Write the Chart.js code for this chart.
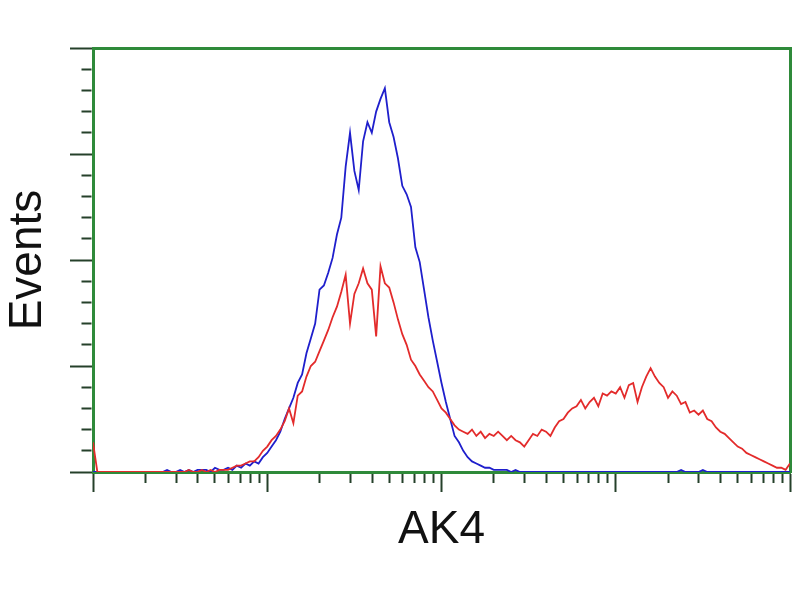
<!DOCTYPE html>
<html>
<head>
<meta charset="utf-8">
<script src="https://cdn.jsdelivr.net/npm/chart.js@4/dist/chart.umd.min.js"></script>
<style>
  html, body { margin: 0; padding: 0; background: #ffffff; }
  #wrap { width: 800px; height: 600px; position: relative; }
</style>
</head>
<body>
<div id="wrap"><canvas id="c"></canvas></div>
<script>
// Channel categories (log-scaled display, 40 channels per decade, 4 decades)
const channels = Array.from({length: 161}, (_, i) => i);
const decades = [0, 1, 2, 3];          // decade starts (10^0 .. 10^3)
const subdivisions = [1, 2, 3, 4, 5, 6, 7, 8, 9];
const xTitle = 'AK4';
const yTitle = 'Events';

// Series values (events per channel)
const blueValues = [
  0,0,0,0,0,0,0,0,0,0,
  0,0,0,0,0,0,0,1,0,0,
  1,0,1,0,1,1,1,0,2,1,
  1,2,1,3,2,4,3,5,4,7,
  9,12,15,19,25,30,35,42,46,56,
  63,70,86,88,94,101,112,120,144,160,
  142,133,156,165,160,170,176,181,165,158,
  148,135,131,125,106,99,86,73,62,52,
  42,33,25,17,14,10,7,5,4,3,
  2,2,1,1,1,1,0,1,0,0,
  0,0,0,0,0,0,0,0,0,0,
  0,0,0,0,0,0,0,0,0,0,
  0,0,0,0,0,0,0,0,0,0,
  0,0,0,0,0,1,0,0,0,0,
  1,0,0,0,0,0,0,0,0,0,
  0,0,0,0,0,0,0,0,0,0,
  0
];
const redValues = [
  14,0,0,0,0,0,0,0,0,0,
  0,0,0,0,0,0,0,0,0,0,
  0,0,1,0,0,1,0,1,0,1,
  1,1,2,3,3,4,5,5,7,10,
  12,15,17,20,24,30,23,36,38,45,
  50,52,57,62,67,73,78,85,93,70,
  84,89,96,89,86,64,97,89,87,80,
  72,65,60,53,50,46,43,40,38,34,
  30,28,25,22,20,19,18,20,17,19,
  16,18,17,19,17,15,17,15,14,12,
  15,18,17,20,19,17,21,24,25,28,
  30,31,34,30,33,35,31,37,36,38,
  37,40,35,41,42,33,40,45,49,45,
  42,40,35,38,36,32,33,28,29,27,
  29,25,24,21,19,18,16,14,12,11,
  9,8,7,6,5,4,3,2,2,1,4
];

const CH_PER_DEC = 40;
const GREEN = '#2f8a3a';
const TICK = '#25402a';

const xTickVals = [];
const xMajor = new Set();
decades.forEach(d => {
  subdivisions.forEach(k => {
    const v = CH_PER_DEC * Math.log10(k * Math.pow(10, d));
    xTickVals.push(v);
    if (k === 1) xMajor.add(v);
  });
});
xTickVals.push(CH_PER_DEC * 4);
xMajor.add(CH_PER_DEC * 4);

const toPts = vals => channels.map((c, i) => ({x: c, y: vals[i]}));

new Chart(document.getElementById('c'), {
  type: 'line',
  data: {
    datasets: [
      { label: 'red', data: toPts(redValues), borderColor: '#e32b2b', borderWidth: 1.8,
        pointRadius: 0, tension: 0, fill: false },
      { label: 'blue', data: toPts(blueValues), borderColor: '#1f1fcc', borderWidth: 1.8,
        pointRadius: 0, tension: 0, fill: false }
    ]
  },
  options: {
    responsive: true,
    maintainAspectRatio: false,
    animation: false,
    layout: { padding: { left: 0, right: 10, top: 48, bottom: 0 } },
    plugins: { legend: { display: false }, tooltip: { enabled: false } },
    scales: {
      x: {
        type: 'linear', position: 'bottom', min: 0, max: 160,
        afterBuildTicks: s => { s.ticks = xTickVals.map(v => ({value: v})); },
        afterFit: s => { s.height = 128; },
        ticks: { display: false },
        border: { display: true, color: GREEN, width: 3 },
        grid: {
          drawOnChartArea: false, drawTicks: true, tickLength: 20,
          tickColor: TICK, tickWidth: 2,
          tickBorderDash: ctx => (ctx.tick && xMajor.has(ctx.tick.value)) ? [] : [9, 100]
        },
        title: { display: true, text: xTitle, color: '#111111',
          font: { family: 'Liberation Sans, Arial, sans-serif', size: 46 },
          padding: { top: 0, bottom: 42 } }
      },
      x2: {
        type: 'linear', position: 'top', min: 0, max: 160,
        afterFit: s => { s.height = 0; },
        ticks: { display: false },
        border: { display: true, color: GREEN, width: 3 },
        grid: { drawOnChartArea: false, drawTicks: false }
      },
      y: {
        type: 'linear', position: 'left', min: 0, max: 200,
        afterFit: s => { s.width = 93; },
        ticks: { display: false, stepSize: 10 },
        border: { display: true, color: GREEN, width: 3 },
        grid: {
          drawOnChartArea: false, drawTicks: true, tickLength: 23,
          tickColor: TICK, tickWidth: 2,
          tickBorderDash: ctx => (ctx.tick && ctx.tick.value % 50 === 0) ? [] : [0, 11.5, 10, 100]
        },
        title: { display: true, text: yTitle, color: '#111111',
          font: { family: 'Liberation Sans, Arial, sans-serif', size: 46 },
          padding: { top: 1, bottom: 0 } }
      },
      y2: {
        type: 'linear', position: 'right', min: 0, max: 200,
        afterFit: s => { s.width = 0; },
        ticks: { display: false },
        border: { display: true, color: GREEN, width: 3 },
        grid: { drawOnChartArea: false, drawTicks: false }
      }
    }
  }
});
</script>
</body>
</html>
